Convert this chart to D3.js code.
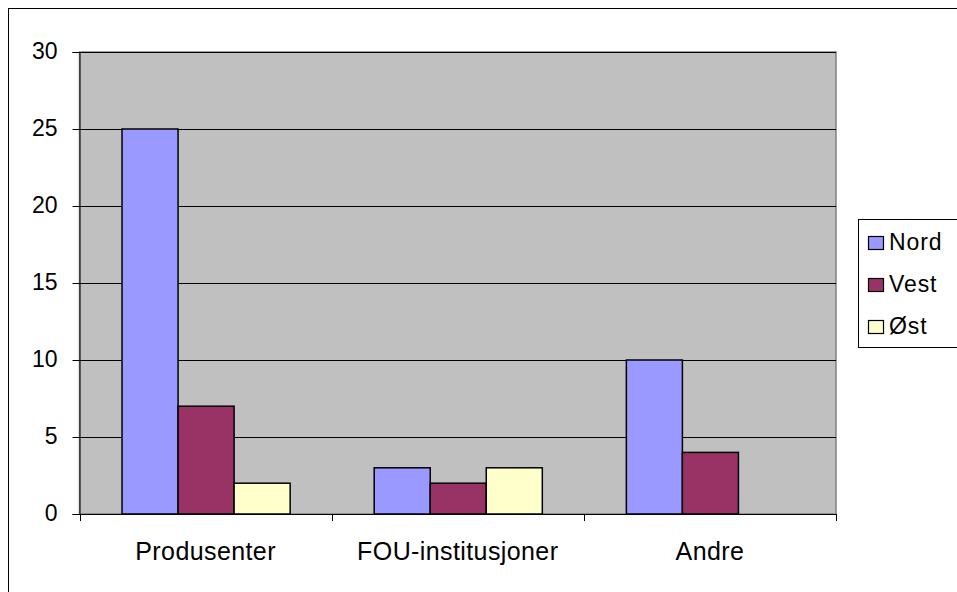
<!DOCTYPE html>
<html><head><meta charset="utf-8">
<script src="https://cdn.jsdelivr.net/npm/d3@7"></script>
<style>body{margin:0;background:#fff}svg{display:block;font-family:"Liberation Sans",Arial,sans-serif}</style>
</head><body>
<script>
const categories = ["Produsenter", "FOU-institusjoner", "Andre"];
const seriesNames = ["Nord", "Vest", "Øst"];
const nord = [25, 3, 10];
const vest = [7, 2, 4];
const ost = [2, 3, 0];
const yTicks = [0, 5, 10, 15, 20, 25, 30];
const colors = ["#9999FF", "#993366", "#FFFFCC"];

const values = [nord, vest, ost];
const W = 957, H = 592;
const FONT = "Liberation Sans, Arial, sans-serif";
const svg = d3.select("body").append("svg").attr("width", W).attr("height", H);

svg.append("rect").attr("x", 8.5).attr("y", 8.5).attr("width", W - 8).attr("height", H - 8)
  .attr("fill", "#fff").attr("stroke", "#000").attr("stroke-width", 1);

const L = 79.5, R = 836, T = 52, B = 514;
const x = d3.scaleBand().domain(categories).range([L, R]).paddingInner(0).paddingOuter(0);
const y = d3.scaleLinear().domain([0, 30]).range([B, T]);

svg.append("rect").attr("x", L).attr("y", T).attr("width", R - L).attr("height", B - T)
  .attr("fill", "#C0C0C0").attr("stroke", "#808080").attr("stroke-width", 1.5);

// gridlines
svg.append("g").selectAll("line").data(yTicks.filter(d => d > 0)).join("line")
  .attr("x1", L).attr("x2", R).attr("y1", d => Math.round(y(d)) + 0.5).attr("y2", d => Math.round(y(d)) + 0.5)
  .attr("stroke", "#000").attr("stroke-width", 1);

// bars
const bw = x.bandwidth();
const barW = bw / (3 + 1.5);
const gx = d3.scaleBand().domain(seriesNames).range([0, barW * 3]);
const gBars = svg.append("g");
seriesNames.forEach((s, si) => {
  gBars.selectAll(null).data(categories.map((c, i) => ({c, v: values[si][i]})).filter(d => d.v > 0))
    .join("rect")
    .attr("x", d => x(d.c) + barW * 0.75 + gx(s) + 0.5)
    .attr("y", d => y(d.v))
    .attr("width", gx.bandwidth())
    .attr("height", d => y(0) - y(d.v))
    .attr("fill", colors[si]).attr("stroke", "#000").attr("stroke-width", 1.5);
});

// y axis
const yAxis = d3.axisLeft(y).tickValues(yTicks).tickSize(7).tickPadding(15);
const ga = svg.append("g").attr("transform", `translate(${L},0)`).call(yAxis);
ga.attr("font-size", 23).attr("font-family", FONT);
ga.select(".domain").attr("stroke", "#000");
ga.selectAll("text").attr("fill", "#000").attr("dy", "0.28em");

// x axis
const xAxis = d3.axisBottom(x).tickSize(0).tickPadding(28);
const gx2 = svg.append("g").attr("transform", `translate(0,${B})`).call(xAxis);
gx2.attr("font-size", 25).attr("font-family", FONT);
gx2.select(".domain").attr("stroke", "#000");
gx2.selectAll("text").attr("fill", "#000").attr("dy", null).attr("y", 46)
  .style("letter-spacing", "0.4px");
const edges = categories.map(c => x(c)).concat([R]);
svg.append("g").selectAll("line").data(edges).join("line")
  .attr("x1", d => Math.round(d) + 0.5).attr("x2", d => Math.round(d) + 0.5)
  .attr("y1", B).attr("y2", B + 7).attr("stroke", "#000");

// legend
const lg = svg.append("g");
lg.append("rect").attr("x", 858.5).attr("y", 219.5).attr("width", 110).attr("height", 128)
  .attr("fill", "#fff").attr("stroke", "#000");
const ly = d3.scalePoint().domain(seriesNames).range([243, 327]);
seriesNames.forEach((s, i) => {
  lg.append("rect").attr("x", 868.5).attr("y", ly(s) - 6.5).attr("width", 15).attr("height", 13)
    .attr("fill", colors[i]).attr("stroke", "#000").attr("stroke-width", 1.2);
  lg.append("text").attr("x", 889).attr("y", ly(s) + 6.5).attr("font-size", 23)
    .attr("font-family", FONT).style("letter-spacing", "0.9px").text(s);
});
</script>
</body></html>
